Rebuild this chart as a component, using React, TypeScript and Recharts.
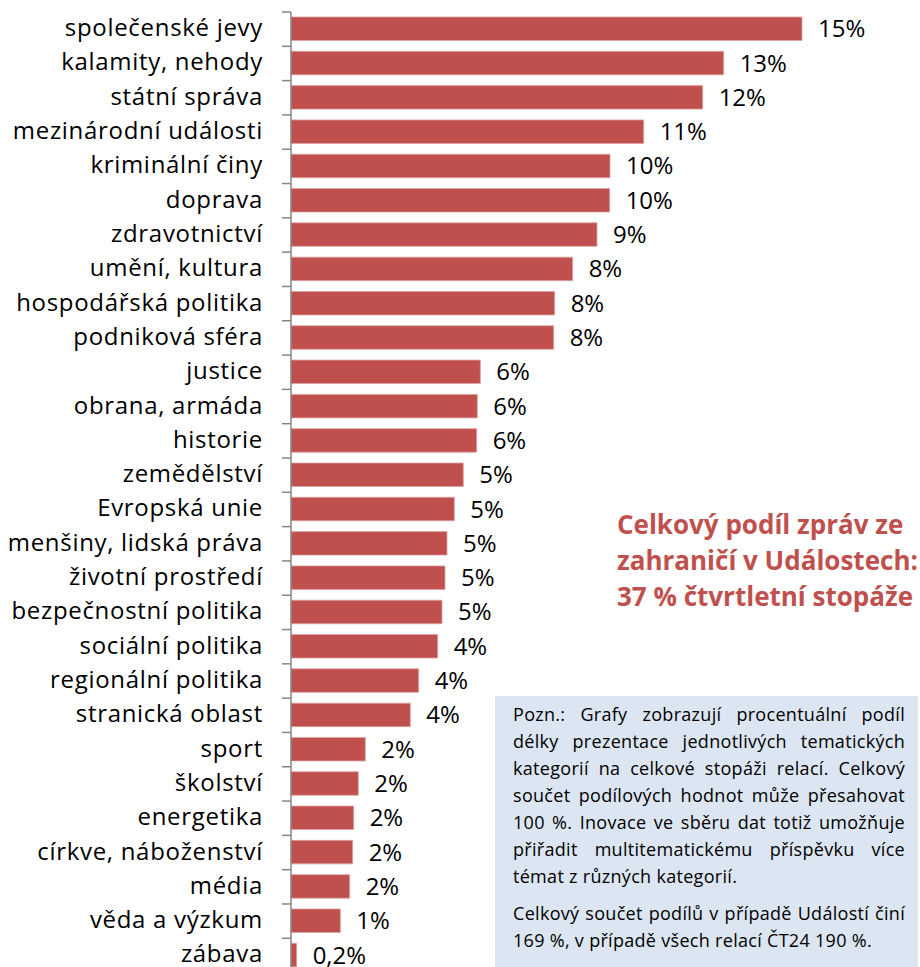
import React from 'react'
import { BarChart, Bar, XAxis, YAxis, LabelList } from 'recharts'

const categories = [
  'společenské jevy', 'kalamity, nehody', 'státní správa', 'mezinárodní události',
  'kriminální činy', 'doprava', 'zdravotnictví', 'umění, kultura',
  'hospodářská politika', 'podniková sféra', 'justice', 'obrana, armáda',
  'historie', 'zemědělství', 'Evropská unie', 'menšiny, lidská práva',
  'životní prostředí', 'bezpečnostní politika', 'sociální politika', 'regionální politika',
  'stranická oblast', 'sport', 'školství', 'energetika',
  'církve, náboženství', 'média', 'věda a výzkum', 'zábava',
]

const shares = [
  15.33, 12.98, 12.35, 10.58, 9.57, 9.56, 9.18, 8.45, 7.91, 7.88,
  5.68, 5.59, 5.57, 5.17, 4.9, 4.68, 4.62, 4.53, 4.4, 3.83,
  3.58, 2.23, 2.02, 1.88, 1.85, 1.76, 1.48, 0.17,
]

const headline = ['Celkový podíl zpráv ze', 'zahraničí v Událostech:', '37 % čtvrtletní stopáže']

const noteLines = [
  ['Pozn.: Grafy zobrazují procentuální podíl', true],
  ['délky prezentace jednotlivých tematických', true],
  ['kategorií na celkové stopáži relací. Celkový', true],
  ['součet podílových hodnot může přesahovat', true],
  ['100 %. Inovace ve sběru dat totiž umožňuje', true],
  ['přiřadit multitematickému příspěvku více', true],
  ['témat z různých kategorií.', false],
]
const noteLines2 = [
  ['Celkový součet podílů v případě Událostí činí', true],
  ['169 %, v případě všech relací ČT24 190 %.', false],
]

const data = categories.map((name, i) => ({ name, value: shares[i] }))

const FONT = '"Open Sans", sans-serif'
const AXIS_X = 291
const TOP = 12
const PLOT_H = 960.6
const BAND = PLOT_H / categories.length

const fmt = (v: any) => (v < 1 ? String(v.toFixed(1)).replace('.', ',') : Math.round(v)) + '%'

const CategoryTick = (props: any) => {
  const { y, payload, index } = props
  return (
    <g>
      <line x1={AXIS_X - 9} x2={AXIS_X} y1={y - BAND / 2} y2={y - BAND / 2} stroke="#868686" strokeWidth={1.5} />
      {index === categories.length - 1 && (
        <line x1={AXIS_X - 9} x2={AXIS_X} y1={y + BAND / 2} y2={y + BAND / 2} stroke="#868686" strokeWidth={1.5} />
      )}
      <text x={AXIS_X - 28} y={y} dy={7} textAnchor="end" fill="#000" fontSize={24} letterSpacing={0.7} fontFamily={FONT}>
        {payload.value}
      </text>
    </g>
  )
}

const lineStyle = (justify: any) => ({
  textAlign: justify ? 'justify' : 'left',
  textAlignLast: justify ? 'justify' : 'left',
  whiteSpace: 'nowrap' as const,
  height: 27,
})

function App() {
  return (
    <div style={{ position: 'absolute', left: 0, top: 0, width: 920, height: 967, overflow: 'hidden', background: '#fff', fontFamily: FONT }}>
      <BarChart
        width={920}
        height={TOP + PLOT_H + 5}
        data={data}
        layout="vertical"
        margin={{ top: TOP, right: 29, bottom: 5, left: 0 }}
        barSize={23.5}
      >
        <XAxis type="number" domain={[0, 18]} hide />
        <YAxis
          type="category"
          dataKey="name"
          width={AXIS_X}
          interval={0}
          tickLine={false}
          axisLine={{ stroke: '#868686', strokeWidth: 1.5 }}
          tick={<CategoryTick />}
        />
        <Bar dataKey="value" fill="#C0504D" stroke="#dba2a1" strokeWidth={0.8} isAnimationActive={false}>
          <LabelList dataKey="value" position="right" offset={16} formatter={fmt} fill="#000" fontSize={24} fontFamily={FONT} />
        </Bar>
      </BarChart>

      <div style={{ position: 'absolute', left: 617, top: 506, color: '#C0504D', fontWeight: 700, fontSize: 26, lineHeight: '36px', whiteSpace: 'nowrap' }}>
        {headline.map((t) => <div key={t}>{t}</div>)}
      </div>

      <div style={{ position: 'absolute', left: 495, top: 696, width: 423, height: 290, background: '#DCE6F2', boxSizing: 'border-box', padding: '5px 13px 0 18px', fontSize: 18, letterSpacing: 0.3, lineHeight: '27px', color: '#000' }}>
        {noteLines.map(([t, j]: any) => <div key={t} style={lineStyle(j) as any}>{t}</div>)}
        <div style={{ height: 10 }} />
        {noteLines2.map(([t, j]: any) => <div key={t} style={lineStyle(j) as any}>{t}</div>)}
      </div>
    </div>
  )
}

export default App
